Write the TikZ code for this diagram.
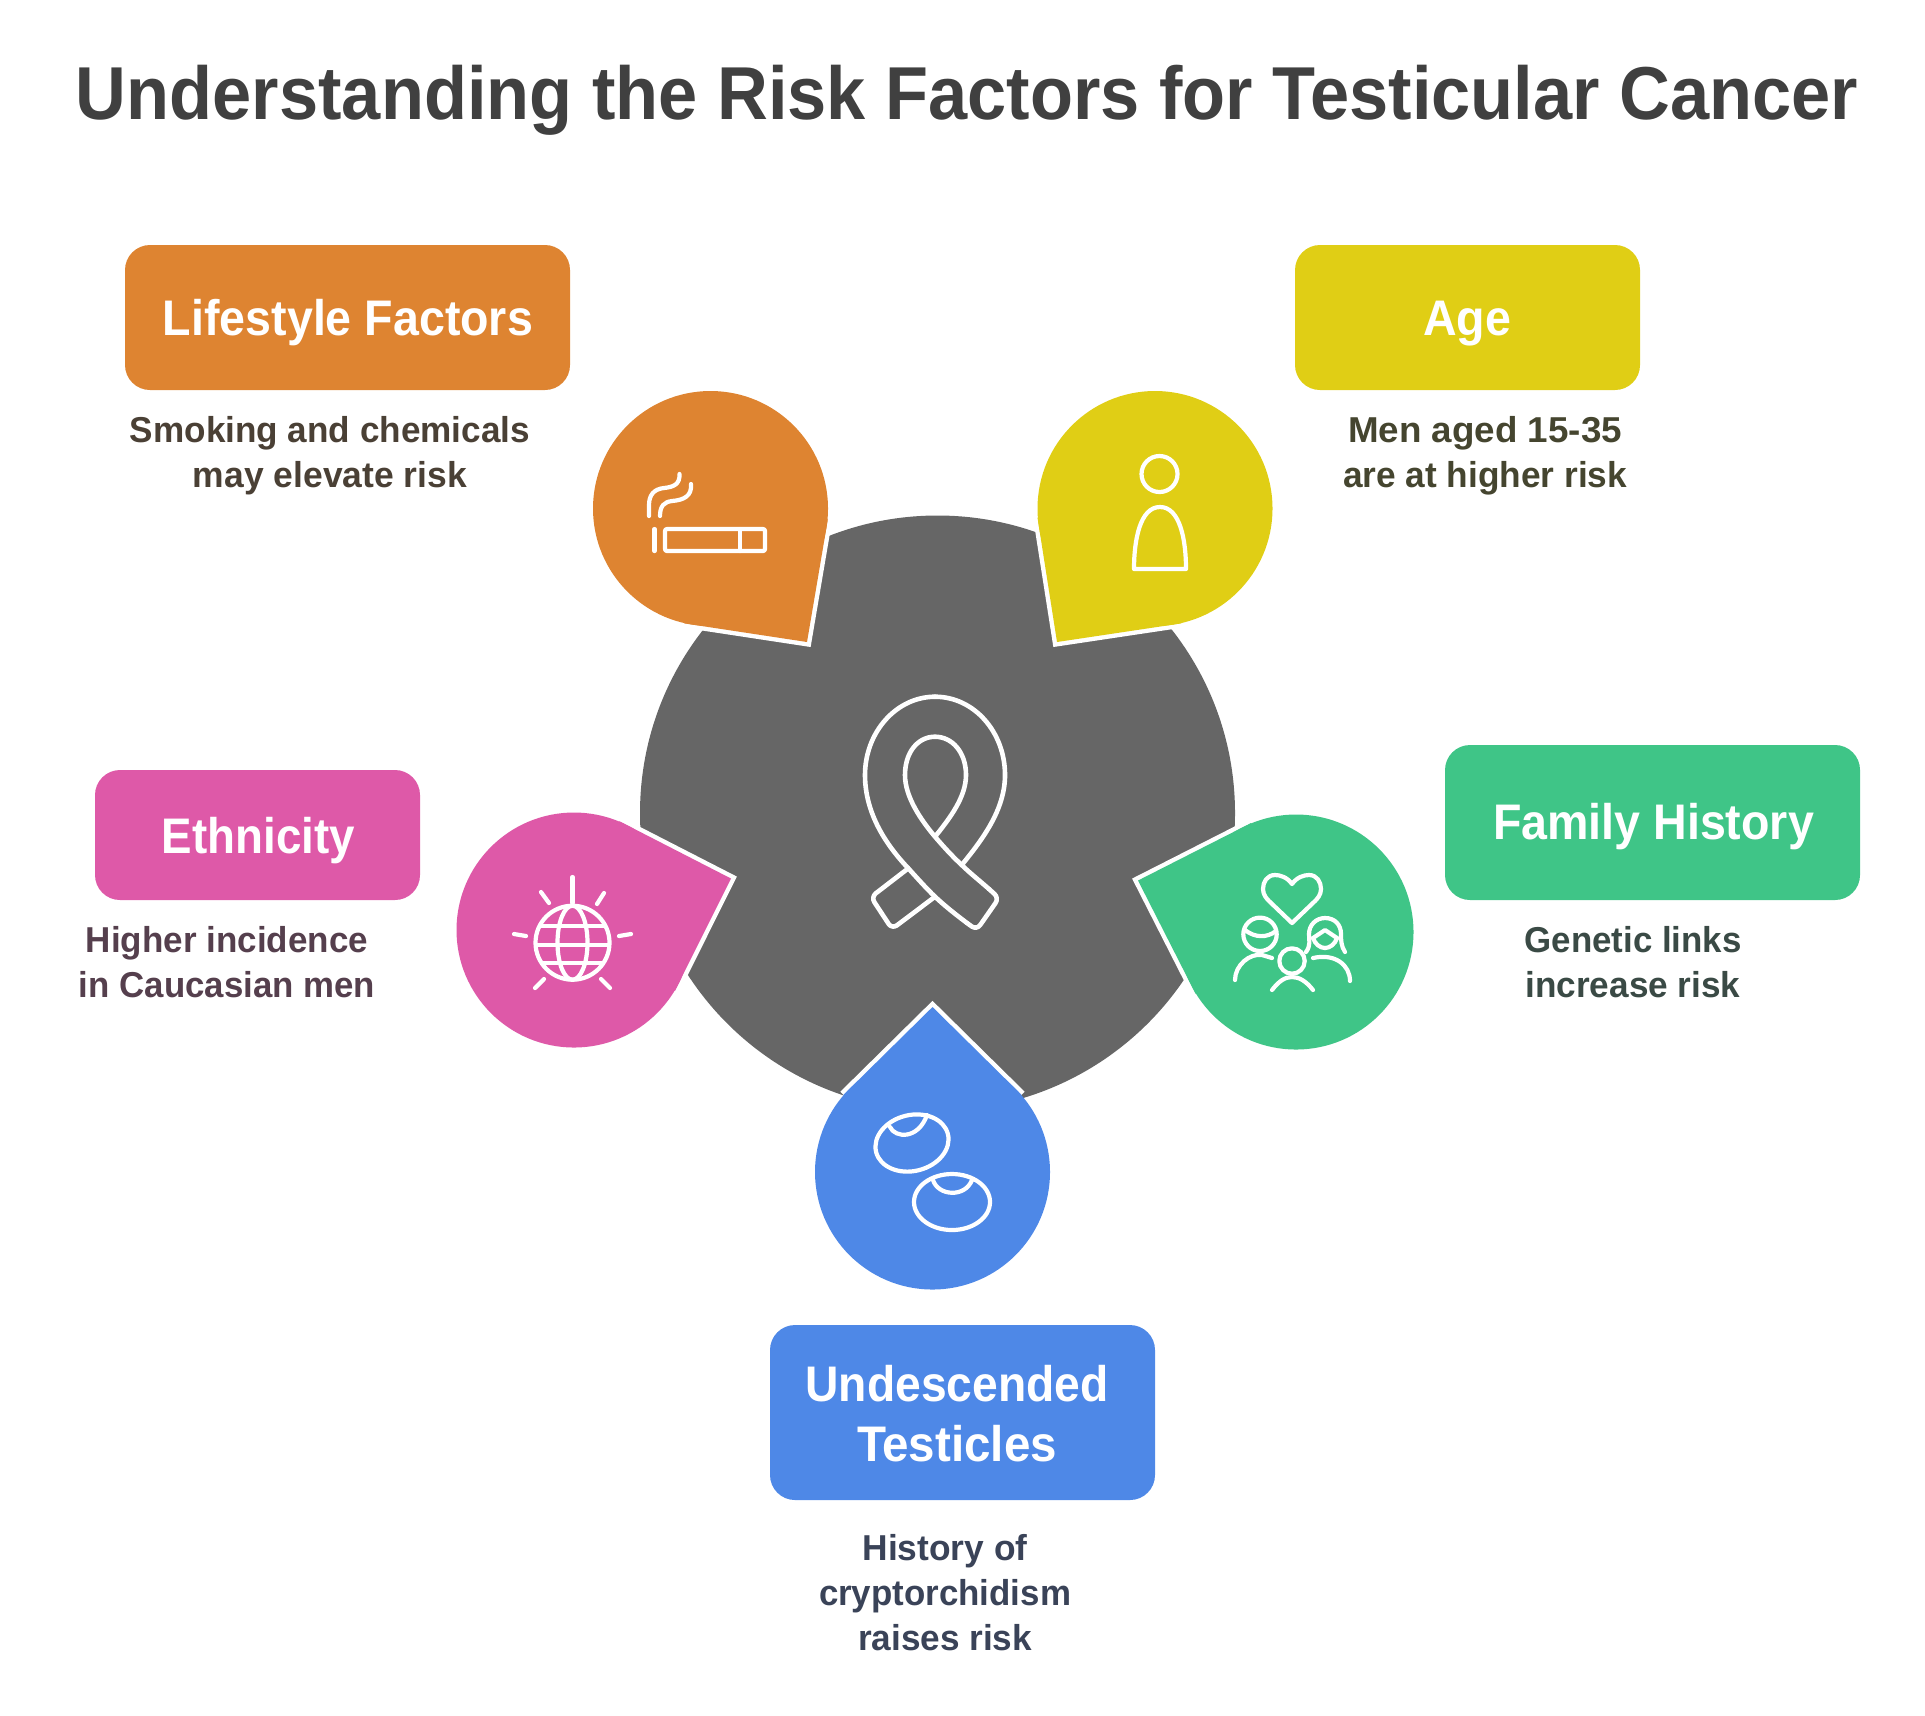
\documentclass[tikz,border=0pt]{standalone}
\usepackage{fontspec}
\usepackage{graphicx}
\setmainfont{Liberation Sans}[BoldFont={Liberation Sans Bold}]
\usetikzlibrary{calc}
\definecolor{cOrange}{HTML}{DE8431}
\definecolor{cYellow}{HTML}{E0CE15}
\definecolor{cPink}{HTML}{DE59A8}
\definecolor{cGreen}{HTML}{3FC587}
\definecolor{cBlue}{HTML}{4E88E7}
\definecolor{cGray}{HTML}{666666}
\definecolor{cTitle}{HTML}{404040}
\definecolor{dOrange}{HTML}{4A4035}
\definecolor{dYellow}{HTML}{45452F}
\definecolor{dPink}{HTML}{553F4D}
\definecolor{dGreen}{HTML}{3A4A45}
\definecolor{dBlue}{HTML}{3A4358}
\newcommand\tw[2]{\resizebox{#1}{\height}{#2}}
\newcommand\rows[1]{\begin{tabular}[t]{@{}c@{}}#1\end{tabular}}
% drop shape: #1 name, #2 colour, #3 circle centre, #4 tip
\newcommand\dropshape[4]{%
  \coordinate (#1tip) at (#4);
  \node[dropcircle] (#1) at (#3) {};
  \coordinate (#1a) at ($(#1tip)!1.08!(tangent cs:node=#1,point={(#1tip)},solution=1)$);
  \coordinate (#1b) at ($(#1tip)!1.08!(tangent cs:node=#1,point={(#1tip)},solution=2)$);
  \draw[tipedge] (#1a) -- (#1tip) -- (#1b);
  \fill[#2] (#1.center) circle[radius=117.5];
  \fill[#2] (#1tip) -- (#1a) -- (#1.center) -- (#1b) -- cycle;
}
\tikzset{
  dropcircle/.style={circle,inner sep=0pt,outer sep=0pt,draw=none,minimum size=117.5pt},
  tipedge/.style={white,line width=4.4pt,line join=miter,line cap=butt},
  icon/.style={white,line width=2.1pt,line cap=round,line join=round},
  ribbon/.style={white,line width=2.3pt,line cap=round,line join=round},
  cattext/.style={anchor=base,inner sep=0pt,text=white,font=\fontsize{25}{30}\selectfont\bfseries},
  desc/.style={anchor=base,inner sep=0pt,font=\fontsize{18}{22.5}\selectfont\bfseries},
  titletext/.style={anchor=base,inner sep=0pt,text=cTitle,font=\fontsize{37.5}{46}\selectfont\bfseries}
}
\begin{document}
\begin{tikzpicture}[x=0.5pt,y=-0.5pt]
\useasboundingbox (0,0) rectangle (1925,1715);
\node[titletext] (title) at (967,119) {\tw{891pt}{Understanding the Risk Factors for Testicular Cancer}};
% centre disc
\node[circle,fill=cGray,inner sep=0pt,minimum size=297.5pt] (hub) at (937.5,813) {};
% drops
\dropshape{orangedrop}{cOrange}{710.5,508.5}{807,642}
\dropshape{yellowdrop}{cYellow}{1155,508.5}{1057,642}
\dropshape{pinkdrop}{cPink}{574,930}{731,878.5}
\dropshape{greendrop}{cGreen}{1296,932}{1138,880.5}
\dropshape{bluedrop}{cBlue}{932.5,1172}{932.5,1007}
% ribbon
\draw[ribbon] (935,696.7) .. controls (896.5,696.7) and (865,732) .. (865,775) .. controls (865,815) and (888,847) .. (908.3,868.3) .. controls (918,879) and (926,888) .. (935,896.7) .. controls (945,906) and (955,914) .. (967,923);
\draw[ribbon,rounded corners=3pt] (967,923) -- (976.7,930) -- (999,898) -- (989,889);
\draw[ribbon] (989,889) .. controls (980,881) and (971,874) .. (961.7,865) .. controls (951,855) and (943,846) .. (935,836.7) .. controls (921,820) and (905,797) .. (905,775) .. controls (905,752) and (918,736.7) .. (935,736.7) .. controls (952,736.7) and (966,752) .. (966,775) .. controls (966,797) and (950,818) .. (935,836.7);
\draw[ribbon] (935,696.7) .. controls (974,696.7) and (1005,732) .. (1005,775) .. controls (1005,810) and (982,840) .. (961.7,865);
\draw[ribbon,rounded corners=3pt] (908.3,868.3) -- (871,897) -- (892,929) -- (935,896.7);
% cigarette
\draw[icon,rounded corners=1pt] (665,529) rectangle (765,551);
\draw[icon] (740,529) -- (740,551);
\draw[icon] (654.5,529) -- (654.5,551);
\draw[icon] (649,516) -- (649,505) .. controls (649,495) and (654,489) .. (664,488) .. controls (674,487) and (680,484) .. (679.5,474);
\draw[icon] (660,516) .. controls (660,506) and (664,502) .. (672,501) .. controls (684,500) and (692,496) .. (691,484);
% person
\draw[icon] (1159.5,474) circle[radius=18];
\draw[icon] (1134,569) -- (1186,569) .. controls (1186,540) and (1180,507) .. (1160,507) .. controls (1140,507) and (1134,540) .. (1134,569) -- cycle;
% globe
\draw[icon] (572.5,942.7) circle[radius=37];
\draw[icon] (572.5,942.7) ellipse[x radius=15,y radius=37];
\begin{scope}
\clip (572.5,942.7) circle[radius=37];
\draw[icon] (530,925.7) -- (615,925.7);
\draw[icon] (530,945) -- (615,945);
\draw[icon] (530,963.3) -- (615,963.3);
\end{scope}
\draw[icon] (572.5,877) -- (572.5,903);
\draw[icon] (541,892) -- (549,903);
\draw[icon] (604,893) -- (597,904);
\draw[icon] (514,934) -- (526,936);
\draw[icon] (631,934) -- (619,936);
\draw[icon] (544,979) -- (535,988);
\draw[icon] (601,979) -- (610,988);
% family
\draw[icon] (1292,884) .. controls (1297,877) and (1304,875) .. (1309,875) .. controls (1317,875) and (1321,882) .. (1321,889) .. controls (1321,895) and (1317,899) .. (1315,901) -- (1292,923) -- (1269,901) .. controls (1267,899) and (1263,895) .. (1263,889) .. controls (1263,882) and (1267,875) .. (1275,875) .. controls (1280,875) and (1287,877) .. (1292,884) -- cycle;
\draw[icon] (1260,934.3) circle[radius=16.7];
\draw[icon] (1245,930) .. controls (1255,938) and (1267,938) .. (1276,931);
\draw[icon] (1235,980) .. controls (1235,965) and (1250,953) .. (1262,955) -- (1272,958);
\draw[icon] (1292,961) circle[radius=12.7];
\draw[icon] (1272,990) .. controls (1279,981) and (1285,977) .. (1292,977) .. controls (1299,977) and (1306,981) .. (1313,990);
\draw[icon] (1306,952) .. controls (1311,945) and (1309,940) .. (1309,934) .. controls (1309,925) and (1316,918) .. (1325,918) .. controls (1335,918) and (1341,925) .. (1341,934) .. controls (1341,940) and (1341,946) .. (1345,952);
\draw[icon] (1313,938) -- (1325,930) -- (1337,938);
\draw[icon] (1313,938) .. controls (1315,944) and (1320,948) .. (1325,948) .. controls (1330,948) and (1335,944) .. (1337,938);
\draw[icon] (1313,958) .. controls (1335,953) and (1350,965) .. (1350,981);
% testicles
\draw[icon,rotate around={14:(912,1143)}] (912,1143) ellipse[x radius=37,y radius=28];
\draw[icon] (890,1127) .. controls (895,1138) and (918,1140) .. (927,1115);
\draw[icon] (952,1202) ellipse[x radius=38,y radius=28];
\draw[icon] (933,1180) .. controls (938,1196) and (965,1198) .. (972,1180);
% category boxes
\fill[cOrange,rounded corners=12.5pt] (125,245) rectangle (570,390);
\fill[cYellow,rounded corners=12.5pt] (1295,245) rectangle (1640,390);
\fill[cPink,rounded corners=12.5pt] (95,770) rectangle (420,900);
\fill[cGreen,rounded corners=12.5pt] (1445,745) rectangle (1860,900);
\fill[cBlue,rounded corners=12.5pt] (770,1325) rectangle (1155,1500);
\node[cattext] (lifeT) at (348,335) {\tw{185pt}{Lifestyle Factors}};
\node[cattext] (ageT) at (1467,335) {\tw{44pt}{Age}};
\node[cattext] (ethT) at (258.5,853) {\tw{96.5pt}{Ethnicity}};
\node[cattext] (famT) at (1653.5,839) {\tw{160.5pt}{Family History}};
\node[cattext] (undT) at (957,1401) {\rows{\tw{151.5pt}{Undescended}\\\tw{100pt}{Testicles}}};
% descriptions
\node[desc,text=dOrange] (lifeD) at (330,442) {\rows{\tw{200pt}{Smoking and chemicals}\\\tw{137pt}{may elevate risk}}};
\node[desc,text=dYellow] (ageD) at (1485,442) {\rows{\tw{137pt}{Men aged 15-35}\\\tw{142pt}{are at higher risk}}};
\node[desc,text=dPink] (ethD) at (227,952) {\rows{\tw{141pt}{Higher incidence}\\\tw{148pt}{in Caucasian men}}};
\node[desc,text=dGreen] (famD) at (1633,952) {\rows{\tw{108.5pt}{Genetic links}\\\tw{107.5pt}{increase risk}}};
\node[desc,text=dBlue] (undD) at (945,1560) {\rows{\tw{82.5pt}{History of}\\\tw{126pt}{cryptorchidism}\\\tw{87pt}{raises risk}}};
\end{tikzpicture}
\end{document}
